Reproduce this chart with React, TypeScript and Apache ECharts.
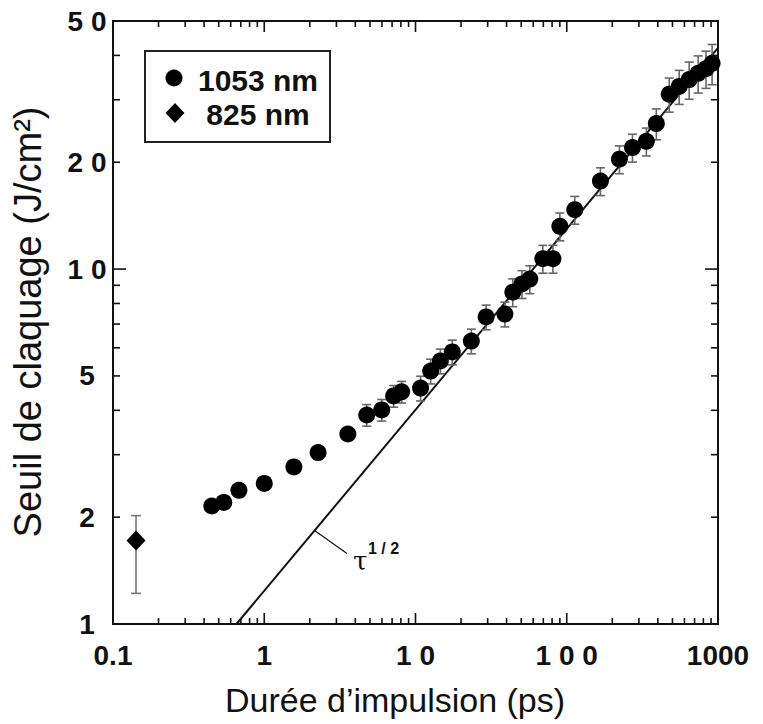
import React, { useEffect, useRef } from "react";
import * as echarts from "echarts";

// ---- data ----
const pulse1053 = [0.45, 0.54, 0.68, 1.0, 1.57, 2.27, 3.57, 4.76, 5.98, 7.17, 8.1, 10.8, 12.6, 14.6, 17.5, 23.4, 29.3, 39, 44, 50.6, 57, 69.5, 81, 90, 113, 167, 223, 272, 336, 391, 476, 554, 645, 739, 833, 914];
const thresh1053 = [2.15, 2.2, 2.38, 2.49, 2.77, 3.04, 3.43, 3.88, 4.01, 4.39, 4.51, 4.62, 5.16, 5.51, 5.84, 6.27, 7.33, 7.47, 8.61, 9.08, 9.37, 10.7, 10.7, 13.2, 14.7, 17.7, 20.4, 22.0, 22.9, 25.7, 31.1, 32.7, 34.2, 35.6, 36.7, 38.0];
const relErr1053 = [0.04, 0.04, 0.04, 0.04, 0.04, 0.04, 0.04, 0.07, 0.07, 0.07, 0.07, 0.08, 0.08, 0.08, 0.08, 0.08, 0.08, 0.08, 0.09, 0.09, 0.09, 0.09, 0.09, 0.09, 0.09, 0.09, 0.09, 0.09, 0.09, 0.1, 0.11, 0.11, 0.12, 0.12, 0.12, 0.13];

const pulse825 = [0.142];
const thresh825 = [1.72];
const low825 = [1.22];
const high825 = [2.02];

const fitPulse = [0.655, 1000];
const fitThresh = [1, 42];
const fitLeader = [2.13, 1.84, 3.52, 1.58];

const xMajorTicks = [1, 10, 100];
const xMinorTicks = [0.2, 0.3, 0.4, 0.5, 0.6, 0.7, 0.8, 0.9, 2, 3, 4, 5, 6, 7, 8, 9, 20, 30, 40, 50, 60, 70, 80, 90, 200, 300, 400, 500, 600, 700, 800, 900];
const yMajorTicks = [10];
const yMinorTicks = [2, 3, 4, 5, 6, 7, 8, 9, 20, 30, 40];

const xLabelValues = [0.1, 1, 10, 100, 1000];
const xLabels = ["0.1", "1", "1 0", "1 0 0", "1000"];
const yLabelValues = [1, 2, 5, 10, 20, 50];
const yLabels = ["1", "2", "5", "1 0", "2 0", "5 0"];

const legendNames = ["1053 nm", "825 nm"];
const xTitle = "Durée d\u2019impulsion (ps)";
const yTitle = "Seuil de claquage (J/cm\u00b2)";

const X_MIN = 0.1, X_MAX = 1000, Y_MIN = 1, Y_MAX = 50;
const FONT = "'Liberation Sans', Arial, Helvetica, sans-serif";
const INK = "#111";

export default function App() {
  const ref = useRef<HTMLDivElement>(null);

  useEffect(() => {
    if (!ref.current) return;
    const chart = echarts.init(ref.current, undefined, { renderer: "svg" });

    const tickData: number[][] = [];
    xMajorTicks.forEach((v) => tickData.push([v, 10, 11, 0]));
    xMinorTicks.forEach((v) => tickData.push([v, 10, 6, 0]));
    yMajorTicks.forEach((v) => tickData.push([1, v, 13, 1]));
    yMinorTicks.forEach((v) => tickData.push([1, v, 7, 1]));

    const errData1053 = pulse1053.map((x, i) => [x, thresh1053[i] * (1 - relErr1053[i]), thresh1053[i] * (1 + relErr1053[i])]);
    const errData825 = pulse825.map((x, i) => [x, low825[i], high825[i]]);

    const errRender = (capHalf: number, color: string) => (params: any, api: any) => {
      const x = api.value(0);
      const lo = api.coord([x, api.value(1)]);
      const hi = api.coord([x, api.value(2)]);
      const style = { stroke: color, lineWidth: 1.6 };
      return {
        type: "group",
        children: [
          { type: "line", shape: { x1: lo[0], y1: lo[1], x2: hi[0], y2: hi[1] }, style },
          { type: "line", shape: { x1: lo[0] - capHalf, y1: lo[1], x2: lo[0] + capHalf, y2: lo[1] }, style },
          { type: "line", shape: { x1: hi[0] - capHalf, y1: hi[1], x2: hi[0] + capHalf, y2: hi[1] }, style },
        ],
      };
    };

    const option: any = {
      animation: false,
      backgroundColor: "#fff",
      grid: { left: 113, top: 21, width: 605, height: 603, show: true, borderColor: INK, borderWidth: 2, backgroundColor: "transparent" },
      xAxis: {
        type: "log", logBase: 10, min: X_MIN, max: X_MAX,
        axisLine: { show: false }, axisTick: { show: false }, axisLabel: { show: false }, splitLine: { show: false },
      },
      yAxis: {
        type: "log", logBase: 10, min: Y_MIN, max: Y_MAX,
        axisLine: { show: false }, axisTick: { show: false }, axisLabel: { show: false }, splitLine: { show: false },
      },
      series: [
        {
          type: "custom", name: "ticks", silent: true, z: 5,
          data: tickData,
          renderItem: (params: any, api: any) => {
            const cs = params.coordSys;
            const len = api.value(2);
            const style = { stroke: INK, lineWidth: 1.6 };
            if (api.value(3) === 0) {
              const px = api.coord([api.value(0), 10])[0];
              return {
                type: "group",
                children: [
                  { type: "line", shape: { x1: px, y1: cs.y + cs.height, x2: px, y2: cs.y + cs.height - len }, style },
                  { type: "line", shape: { x1: px, y1: cs.y, x2: px, y2: cs.y + len }, style },
                ],
              };
            }
            const py = api.coord([1, api.value(1)])[1];
            return {
              type: "group",
              children: [
                { type: "line", shape: { x1: cs.x, y1: py, x2: cs.x + len, y2: py }, style },
                { type: "line", shape: { x1: cs.x + cs.width, y1: py, x2: cs.x + cs.width - len, y2: py }, style },
              ],
            };
          },
        },
        {
          type: "custom", name: "xlabels", silent: true,
          data: xLabelValues.map((v) => [v, 1]),
          renderItem: (params: any, api: any) => {
            const cs = params.coordSys;
            const px = api.coord([api.value(0), 1])[0];
            return {
              type: "text", x: px, y: cs.y + cs.height + 31,
              style: { text: xLabels[params.dataIndex], fontSize: 28, fontWeight: "bold", fontFamily: FONT, fill: INK, align: "center", verticalAlign: "middle" },
            };
          },
        },
        {
          type: "custom", name: "ylabels", silent: true,
          data: yLabelValues.map((v) => [1, v]),
          renderItem: (params: any, api: any) => {
            const cs = params.coordSys;
            const py = api.coord([1, api.value(1)])[1];
            return {
              type: "text", x: cs.x - 26, y: py,
              style: { text: yLabels[params.dataIndex], fontSize: 28, fontWeight: "bold", fontFamily: FONT, fill: INK, align: "center", verticalAlign: "middle" },
            };
          },
        },
        {
          type: "line", name: "fit", data: fitPulse.map((x, i) => [x, fitThresh[i]]),
          symbol: "none", lineStyle: { color: INK, width: 2 }, z: 2, silent: true,
        },
        {
          type: "custom", name: "fitLabel", silent: true, z: 2,
          data: [fitLeader],
          renderItem: (params: any, api: any) => {
            const a = api.coord([api.value(0), api.value(1)]);
            const b = api.coord([api.value(2), api.value(3)]);
            return {
              type: "group",
              children: [
                { type: "line", shape: { x1: a[0], y1: a[1], x2: b[0], y2: b[1] }, style: { stroke: INK, lineWidth: 1.2 } },
                { type: "text", x: b[0] + 6, y: b[1] + 8, style: { text: "\u03c4", fontSize: 26, fontFamily: "'DejaVu Serif', serif", fill: INK, align: "left", verticalAlign: "middle" } },
                { type: "text", x: b[0] + 21, y: b[1] - 5, style: { text: "1 / 2", fontSize: 16, fontWeight: "bold", fontFamily: FONT, fill: INK, align: "left", verticalAlign: "middle" } },
              ],
            };
          },
        },
        {
          type: "custom", name: "err1053", silent: true, z: 3,
          data: errData1053, renderItem: errRender(4.5, "#666"),
        },
        {
          type: "custom", name: "err825", silent: true, z: 3,
          data: errData825, renderItem: errRender(5, "#777"),
        },
        {
          type: "scatter", name: legendNames[0], z: 4,
          data: pulse1053.map((x, i) => [x, thresh1053[i]]),
          symbol: "circle", symbolSize: 17, itemStyle: { color: "#000", opacity: 1 },
        },
        {
          type: "scatter", name: legendNames[1], z: 4,
          data: pulse825.map((x, i) => [x, thresh825[i]]),
          symbol: "diamond", symbolSize: [19, 20], itemStyle: { color: "#000", opacity: 1 },
        },
      ],
      graphic: [
        { type: "rect", shape: { x: 145, y: 51, width: 185, height: 91 }, style: { fill: "#fff", stroke: "#222", lineWidth: 2 }, z: 10 },
        { type: "circle", shape: { cx: 174, cy: 78, r: 8.5 }, style: { fill: "#000" }, z: 11 },
        { type: "polygon", shape: { points: [[175, 103], [184.5, 113], [175, 123], [165.5, 113]] }, style: { fill: "#000" }, z: 11 },
        { type: "text", x: 258, y: 80, style: { text: legendNames[0], fontSize: 30, fontWeight: "bold", fontFamily: FONT, fill: INK, align: "center", verticalAlign: "middle" }, z: 11 },
        { type: "text", x: 258, y: 114, style: { text: legendNames[1], fontSize: 30, fontWeight: "bold", fontFamily: FONT, fill: INK, align: "center", verticalAlign: "middle" }, z: 11 },
        { type: "text", x: 395, y: 700, style: { text: xTitle, fontSize: 34, fontFamily: FONT, fill: INK, align: "center", verticalAlign: "middle" } },
        { type: "text", x: 28, y: 322, rotation: Math.PI / 2, style: { text: yTitle, fontSize: 38, fontFamily: FONT, fill: INK, align: "center", verticalAlign: "middle" } },
      ],
    };

    chart.setOption(option);
    return () => chart.dispose();
  }, []);

  return <div ref={ref} style={{ position: "fixed", left: 0, top: 0, width: 763, height: 724, background: "#fff" }} />;
}
